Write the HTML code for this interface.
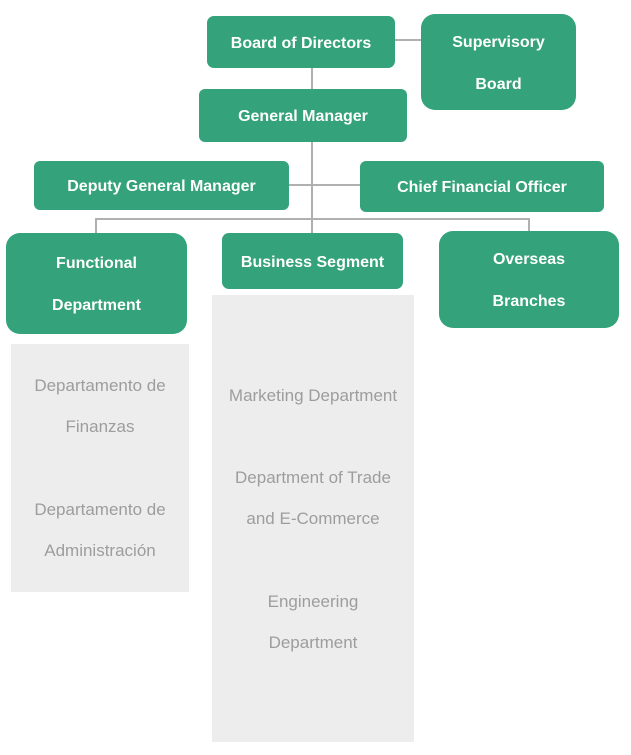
<!DOCTYPE html>
<html><head><meta charset="utf-8"><style>
body{margin:0;width:631px;height:755px;background:#fff;position:relative;overflow:hidden;font-family:"Liberation Sans",sans-serif}
.g{position:absolute;background:#34a27a;color:#fff;font-weight:bold;font-size:16px;display:flex;align-items:center;justify-content:center;text-align:center;line-height:42px;box-sizing:border-box;padding-top:3px}
.s{position:absolute;background:#ededed}
.t{position:absolute;color:#9d9d9d;font-size:17px;text-align:center;line-height:41px}
.l{position:absolute;background:#b0b0b0}
</style></head><body>
<div class="l" style="left:311px;top:66px;width:2px;height:168px"></div>
<div class="l" style="left:393px;top:39px;width:30px;height:2px"></div>
<div class="l" style="left:287px;top:184px;width:75px;height:2px"></div>
<div class="l" style="left:95px;top:218px;width:435px;height:2px"></div>
<div class="l" style="left:95px;top:218px;width:2px;height:16px"></div>
<div class="l" style="left:528px;top:218px;width:2px;height:14px"></div>

<div class="g" style="left:207px;top:16px;width:188px;height:52px;border-radius:7px">Board of Directors</div>
<div class="g" style="left:421px;top:14px;width:155px;height:96px;border-radius:14px">Supervisory<br>Board</div>
<div class="g" style="left:199px;top:89px;width:208px;height:53px;border-radius:6px">General Manager</div>
<div class="g" style="left:34px;top:161px;width:255px;height:49px;border-radius:6px">Deputy General Manager</div>
<div class="g" style="left:360px;top:161px;width:244px;height:51px;border-radius:6px">Chief Financial Officer</div>
<div class="g" style="left:6px;top:233px;width:181px;height:101px;border-radius:14px">Functional<br>Department</div>
<div class="g" style="left:222px;top:233px;width:181px;height:56px;border-radius:7px">Business Segment</div>
<div class="g" style="left:439px;top:231px;width:180px;height:97px;border-radius:14px">Overseas<br>Branches</div>

<div class="s" style="left:11px;top:344px;width:178px;height:248px"></div>
<div class="s" style="left:212px;top:295px;width:202px;height:447px"></div>

<div class="t" style="left:11px;top:365px;width:178px">Departamento de<br>Finanzas</div>
<div class="t" style="left:11px;top:489px;width:178px">Departamento de<br>Administración</div>
<div class="t" style="left:212px;top:375px;width:202px">Marketing Department</div>
<div class="t" style="left:212px;top:457px;width:202px">Department of Trade<br>and E-Commerce</div>
<div class="t" style="left:212px;top:581px;width:202px">Engineering<br>Department</div>
</body></html>
